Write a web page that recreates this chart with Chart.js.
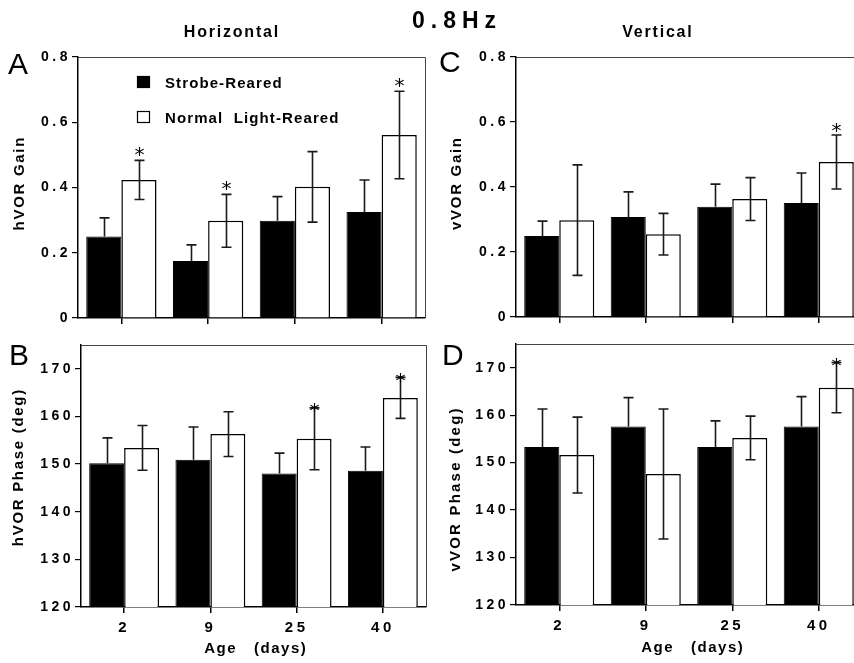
<!DOCTYPE html>
<html>
<head>
<meta charset="utf-8">
<script src="https://cdn.jsdelivr.net/npm/chart.js@4.4.1/dist/chart.umd.min.js"></script>
<style>
  html, body { margin: 0; padding: 0; background: #fff; overflow: hidden; width: 854px; height: 663px; }
  #wrap { position: relative; width: 854px; height: 663px; overflow: hidden; background: #fff; }
  canvas { position: absolute; left: 0; top: 0; }
</style>
</head>
<body>
<div id="wrap">
  <canvas id="panelA" width="870" height="663"></canvas>
  <canvas id="panelB" width="870" height="663"></canvas>
  <canvas id="panelC" width="870" height="663"></canvas>
  <canvas id="panelD" width="870" height="663"></canvas>
</div>
<script>
// ---- data: VOR at 0.8 Hz, mean and error per age group ----
const ageDays = ['2', '9', '25', '40'];
const groupNames = ['Strobe-Reared', 'Normal  Light-Reared'];

// Horizontal gain
const hGainStrobe    = [0.250, 0.175, 0.298, 0.325];
const hGainStrobeErr = [0.057, 0.049, 0.074, 0.098];
const hGainNormal    = [0.423, 0.298, 0.402, 0.561];
const hGainNormalErr = [0.060, 0.081, 0.108, 0.134];
const hGainSig       = [true, true, false, true];

// Horizontal phase (deg)
const hPhaseStrobe    = [150.2, 150.9, 148.0, 148.6];
const hPhaseStrobeErr = [5.3, 6.9, 4.3, 5.0];
const hPhaseNormal    = [153.4, 156.3, 155.3, 163.9];
const hPhaseNormalErr = [4.7, 4.7, 6.5, 4.3];
const hPhaseSig       = [false, false, true, true];

// Vertical gain
const vGainStrobe    = [0.249, 0.308, 0.339, 0.351];
const vGainStrobeErr = [0.046, 0.077, 0.070, 0.092];
const vGainNormal    = [0.298, 0.255, 0.363, 0.477];
const vGainNormalErr = [0.170, 0.064, 0.066, 0.083];
const vGainSig       = [false, false, false, true];

// Vertical phase (deg)
const vPhaseStrobe    = [153.3, 157.6, 153.3, 157.6];
const vPhaseStrobeErr = [8.0, 6.1, 5.5, 6.3];
const vPhaseNormal    = [151.6, 147.6, 155.2, 165.8];
const vPhaseNormalErr = [8.0, 13.7, 4.6, 5.3];
const vPhaseSig       = [false, false, false, true];

// ---- drawing helpers ----
const FAMILY = '"Liberation Sans", Arial, Helvetica, sans-serif';
const TICK_SPACING = 3.5;

function drawSpaced(ctx, text, x, y, font, spacing, align, baseline) {
  ctx.save();
  ctx.font = font;
  ctx.letterSpacing = spacing + 'px';
  ctx.textAlign = 'left';
  ctx.textBaseline = baseline || 'alphabetic';
  const w = ctx.measureText(text).width - spacing;
  const x0 = align === 'center' ? x - w / 2 : (align === 'right' ? x - w : x);
  ctx.fillStyle = '#000';
  ctx.fillText(text, x0, y);
  ctx.restore();
}

// wide tracking on the axis numbers
const trackingPlugin = {
  id: 'tracking',
  beforeLayout(chart) { chart.ctx.letterSpacing = TICK_SPACING + 'px'; },
  beforeDraw(chart) { chart.ctx.letterSpacing = TICK_SPACING + 'px'; }
};

// thin box on the top and right of the plot area
const framePlugin = {
  id: 'frame',
  afterDatasetsDraw(chart) {
    const { ctx, chartArea: a } = chart;
    ctx.save();
    ctx.strokeStyle = '#444';
    ctx.lineWidth = 1;
    ctx.beginPath();
    ctx.moveTo(a.left, a.top + 0.5);
    ctx.lineTo(a.right + 0.5, a.top + 0.5);
    ctx.lineTo(a.right + 0.5, a.bottom);
    ctx.stroke();
    ctx.restore();
  }
};

// error bars (upper only on filled bars) and significance stars
const errorBarPlugin = {
  id: 'errorBars',
  afterDatasetsDraw(chart, args, opts) {
    const ctx = chart.ctx;
    const yScale = chart.scales.y;
    chart.data.datasets.forEach((ds, i) => {
      const meta = chart.getDatasetMeta(i);
      meta.data.forEach((bar, j) => {
        const v = ds.data[j], e = ds.errors[j];
        const yt = yScale.getPixelForValue(v + e);
        const yb = ds.twoSided ? yScale.getPixelForValue(v - e) : yScale.getPixelForValue(v);
        const x = Math.round(bar.x) + 0.5;
        ctx.save();
        ctx.strokeStyle = '#1a1a1a';
        ctx.lineWidth = 1.6;
        ctx.beginPath();
        ctx.moveTo(x, yt); ctx.lineTo(x, yb);
        ctx.moveTo(x - 5, yt); ctx.lineTo(x + 5, yt);
        if (ds.twoSided) { ctx.moveTo(x - 5, yb); ctx.lineTo(x + 5, yb); }
        ctx.stroke();
        if (ds.significant && ds.significant[j]) {
          ctx.font = '20px "DejaVu Sans", sans-serif';
          ctx.letterSpacing = '0px';
          ctx.textAlign = 'center';
          ctx.textBaseline = 'alphabetic';
          const m = ctx.measureText('*');
          const cy = yt + opts.starOffset;
          const base = cy + (m.actualBoundingBoxAscent - m.actualBoundingBoxDescent) / 2;
          ctx.fillStyle = '#000';
          ctx.fillText('*', x, base);
        }
        ctx.restore();
      });
    });
  }
};

// panel letters, axis titles, headers and legend
const decorPlugin = {
  id: 'panelDecor',
  afterDraw(chart, args, o) {
    const ctx = chart.ctx;
    (o.texts || []).forEach(t => {
      ctx.save();
      ctx.translate(t.x, t.y);
      if (t.rotate) ctx.rotate(t.rotate);
      drawSpaced(ctx, t.text, 0, 0, t.font, t.spacing || 0, t.align || 'left', t.baseline || 'alphabetic');
      ctx.restore();
    });
    if (o.legend) {
      const L = o.legend;
      chart.data.datasets.forEach((ds, i) => {
        const y = L.y + i * L.rowGap;
        ctx.save();
        ctx.fillStyle = ds.backgroundColor;
        ctx.fillRect(L.x, y - L.boxH, L.boxW, L.boxH);
        ctx.strokeStyle = '#000';
        ctx.lineWidth = 1.2;
        ctx.strokeRect(L.x + 0.5, y - L.boxH + 0.5, L.boxW - 1, L.boxH - 1);
        ctx.restore();
        drawSpaced(ctx, ds.label, L.x + L.textDx, y, L.font, L.spacing, 'left', 'alphabetic');
      });
    }
  }
};

function makePanel(id, cfg) {
  return new Chart(document.getElementById(id), {
    type: 'bar',
    data: {
      labels: ageDays,
      datasets: [
        { label: groupNames[0], data: cfg.strobe, errors: cfg.strobeErr, twoSided: false,
          backgroundColor: '#000', borderColor: '#000', borderWidth: 1 },
        { label: groupNames[1], data: cfg.normal, errors: cfg.normalErr, twoSided: true, significant: cfg.sig,
          backgroundColor: '#fff', borderColor: '#000', borderWidth: 1.5 }
      ]
    },
    options: {
      responsive: false,
      animation: false,
      devicePixelRatio: 1,
      events: [],
      layout: { padding: cfg.padding },
      datasets: { bar: { categoryPercentage: 0.81, barPercentage: 1.0 } },
      plugins: {
        legend: { display: false },
        tooltip: { enabled: false },
        errorBars: { starOffset: cfg.starOffset },
        panelDecor: cfg.decor
      },
      scales: {
        x: {
          grid: { offset: false, drawOnChartArea: false, drawTicks: true, tickLength: 6, color: '#000', lineWidth: 1.5 },
          border: { color: '#000', width: 1.5 },
          ticks: { display: cfg.xLabels, color: '#000', padding: 5.5, maxRotation: 0,
                   font: { family: FAMILY, size: 15, weight: 'bold' } },
          afterFit: s => { s.height = 40; }
        },
        y: {
          min: cfg.min, max: cfg.max,
          ticks: { stepSize: cfg.step, includeBounds: false, color: '#000', padding: 1,
                   font: { family: FAMILY, size: 14, weight: 'bold' } },
          grid: { drawOnChartArea: false, drawTicks: true, tickLength: 6, color: '#000', lineWidth: 1.2 },
          border: { color: '#000', width: 1.5 },
          afterFit: s => { s.width = 50; }
        }
      }
    },
    plugins: [trackingPlugin, errorBarPlugin, framePlugin, decorPlugin]
  });
}

const TITLE_FONT = 'bold 15px ' + FAMILY;
const LETTER_FONT = '30px ' + FAMILY;
const UP = -Math.PI / 2;

makePanel('panelA', {
  strobe: hGainStrobe, strobeErr: hGainStrobeErr,
  normal: hGainNormal, normalErr: hGainNormalErr, sig: hGainSig,
  min: 0, max: 0.8, step: 0.2, xLabels: false, starOffset: -9,
  padding: { left: 28, top: 57, right: 445, bottom: 305 },
  decor: {
    texts: [
      { text: '0.8Hz', x: 412, y: 28, font: 'bold 23px ' + FAMILY, spacing: 6 },
      { text: 'Horizontal', x: 231, y: 37, font: 'bold 16px ' + FAMILY, spacing: 1.8, align: 'center' },
      { text: 'Vertical', x: 657, y: 37, font: 'bold 16px ' + FAMILY, spacing: 1.8, align: 'center' },
      { text: 'A', x: 8, y: 74, font: LETTER_FONT },
      { text: 'hVOR Gain', x: 20, y: 184, rotate: UP, font: TITLE_FONT, spacing: 1.7, align: 'center', baseline: 'middle' }
    ],
    legend: { x: 137, y: 88, rowGap: 35, boxW: 13, boxH: 12, textDx: 28, font: 'bold 15px ' + FAMILY, spacing: 1.1 }
  }
});

makePanel('panelB', {
  strobe: hPhaseStrobe, strobeErr: hPhaseStrobeErr,
  normal: hPhaseNormal, normalErr: hPhaseNormalErr, sig: hPhaseSig,
  min: 120, max: 175, step: 10, xLabels: true, starOffset: 0,
  padding: { left: 31, top: 345, right: 444, bottom: 16 },
  decor: {
    texts: [
      { text: 'B', x: 9, y: 365, font: LETTER_FONT },
      { text: 'hVOR Phase (deg)', x: 19, y: 468, rotate: UP, font: TITLE_FONT, spacing: 1.7, align: 'center', baseline: 'middle' },
      { text: 'Age   (days)', x: 255, y: 653, font: TITLE_FONT, spacing: 1.5, align: 'center' }
    ]
  }
});

makePanel('panelC', {
  strobe: vGainStrobe, strobeErr: vGainStrobeErr,
  normal: vGainNormal, normalErr: vGainNormalErr, sig: vGainSig,
  min: 0, max: 0.8, step: 0.2, xLabels: false, starOffset: -8,
  padding: { left: 466, top: 57, right: 8, bottom: 306 },
  decor: {
    texts: [
      { text: 'C', x: 439, y: 72, font: LETTER_FONT },
      { text: 'vVOR Gain', x: 457, y: 184, rotate: UP, font: TITLE_FONT, spacing: 1.7, align: 'center', baseline: 'middle' }
    ]
  }
});

makePanel('panelD', {
  strobe: vPhaseStrobe, strobeErr: vPhaseStrobeErr,
  normal: vPhaseNormal, normalErr: vPhaseNormalErr, sig: vPhaseSig,
  min: 120, max: 175, step: 10, xLabels: true, starOffset: 0,
  padding: { left: 466, top: 344, right: 8, bottom: 18 },
  decor: {
    texts: [
      { text: 'D', x: 442, y: 365, font: LETTER_FONT },
      { text: 'vVOR Phase (deg)', x: 456, y: 490, rotate: UP, font: TITLE_FONT, spacing: 2.2, align: 'center', baseline: 'middle' },
      { text: 'Age   (days)', x: 692, y: 652, font: TITLE_FONT, spacing: 1.5, align: 'center' }
    ]
  }
});
</script>
</body>
</html>
